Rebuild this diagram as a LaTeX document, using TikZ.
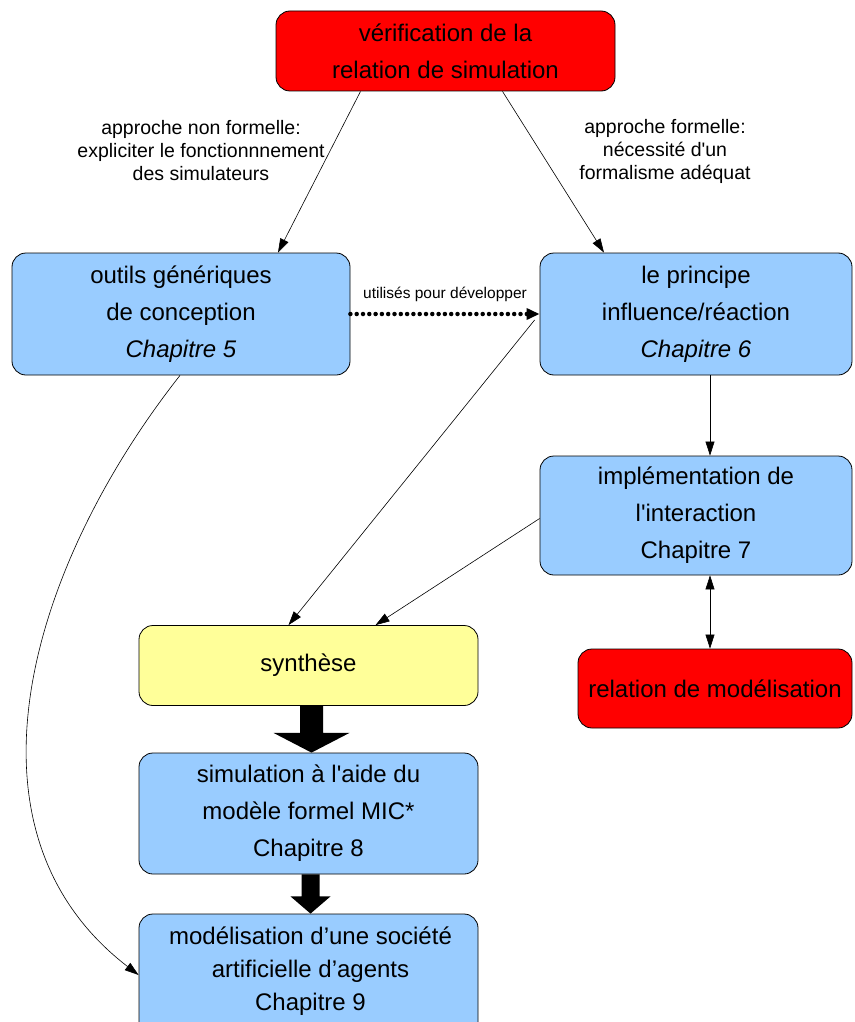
\documentclass[tikz,border=0pt]{standalone}
\usepackage{fontspec}
\setmainfont{Liberation Sans}
\usetikzlibrary{arrows.meta,calc}
\definecolor{boxred}{HTML}{FF0000}
\definecolor{boxblue}{HTML}{99CCFF}
\definecolor{boxyellow}{HTML}{FFFF99}
\newcommand{\sq}{\textquotesingle}
\begin{document}
\begin{tikzpicture}[x=1pt,y=-1pt,
  box/.style={draw=black, line width=0.8pt, rounded corners=14pt, align=center, inner sep=0pt,
    font=\fontsize{24}{37}\selectfont},
  lbl/.style={align=center, inner sep=0pt, font=\fontsize{19.5}{23}\selectfont},
  arr/.style={-{Triangle[length=14pt,width=9pt]}, line width=0.6pt},
  dotarrow/.style={-{Triangle[length=13pt,width=11pt]}, line width=4.5pt, line cap=round, dash pattern=on 0pt off 6.3pt},
  blockarrow/.style={fill=black}]
\useasboundingbox (0,0) rectangle (854,1022);
\clip (0,0) rectangle (854,1022);

% boxes
\node[box, fill=boxred, minimum width=339pt, minimum height=80pt] (top) at (445.5,51) {vérification de la\\relation de simulation};
\node[box, fill=boxblue, minimum width=338pt, minimum height=122pt] (out) at (181,314) {outils génériques\\de conception\\\textit{Chapitre 5}};
\node[box, fill=boxblue, minimum width=312pt, minimum height=122pt] (pri) at (696,314) {le principe\\influence/réaction\\\textit{Chapitre 6}};
\node[box, fill=boxblue, minimum width=312pt, minimum height=119pt] (imp) at (696,515.5) {implémentation de\\l\sq interaction\\Chapitre 7};
\node[box, fill=boxred, minimum width=274pt, minimum height=79pt] (rel) at (715,688.5) {relation de modélisation};
\node[box, fill=boxyellow, minimum width=339pt, minimum height=80pt] (syn) at (308.5,665.5) {synthèse};
\node[box, fill=boxblue, minimum width=339pt, minimum height=121pt] (sim) at (308.5,813.5) {simulation à l\sq aide du\\modèle formel MIC*\\Chapitre 8};
\node[box, fill=boxblue, minimum width=339pt, minimum height=126pt] (mod) at (308.5,977) {};
\node[align=center, inner sep=0pt, font=\fontsize{24}{33}\selectfont] (modt) at ($(mod.center)+(2,-6)$) {modélisation d’une société\\artificielle d’agents\\Chapitre 9};

% labels
\node[lbl] (l1) at (201,151) {approche non formelle:\\expliciter le fonctionnnement\\des simulateurs};
\node[lbl] (l2) at (665,151) {approche formelle:\\nécessité d\sq un\\formalisme adéquat};

% connectors
\draw[arr] ($(top.south)+(-85,0)$) -- ($(out.north)+(97,0)$);
\draw[arr] ($(top.south)+(57,0)$) -- ($(pri.north)+(-92,0)$);
\draw[dotarrow] (out.east) -- node[above=10pt, inner sep=0pt, font=\fontsize{15.5}{18}\selectfont] (l3) {utilisés pour développer} (pri.west);
\draw[arr] ($(pri.west)+(-5,6)$) -- ($(syn.north)+(-20,0)$);
\draw[arr] ($(imp.west)+(0,3)$) -- ($(syn.north)+(67,0)$);
\coordinate (pv) at ($(pri.south)+(14,0)$);
\draw[arr] (pv) -- (imp.north -| pv);
\coordinate (iv) at ($(imp.south)+(14,0)$);
\draw[arr, {Triangle[length=14pt,width=9pt]}-{Triangle[length=14pt,width=9pt]}] (iv) -- (rel.north -| iv);
\draw[arr] ($(out.south)+(-1,0)$) .. controls (30,566) and (-50,830) .. ($(mod.west)+(0,-2)$);

% block arrows
\coordinate (a) at ($(syn.south)+(3,0)$);
\fill[blockarrow] ($(a)+(-11.5,0)$) -- ($(a)+(11.5,0)$) -- ($(a)+(11.5,27)$) -- ($(a)+(38,27)$) -- (sim.north -| a) -- ($(a)+(-38,27)$) -- ($(a)+(-11.5,27)$) -- cycle;
\coordinate (b) at ($(sim.south)+(2,0)$);
\fill[blockarrow] ($(b)+(-9,0)$) -- ($(b)+(9,0)$) -- ($(b)+(9,22)$) -- ($(b)+(20,22)$) -- (mod.north -| b) -- ($(b)+(-20,22)$) -- ($(b)+(-9,22)$) -- cycle;
\end{tikzpicture}
\end{document}
